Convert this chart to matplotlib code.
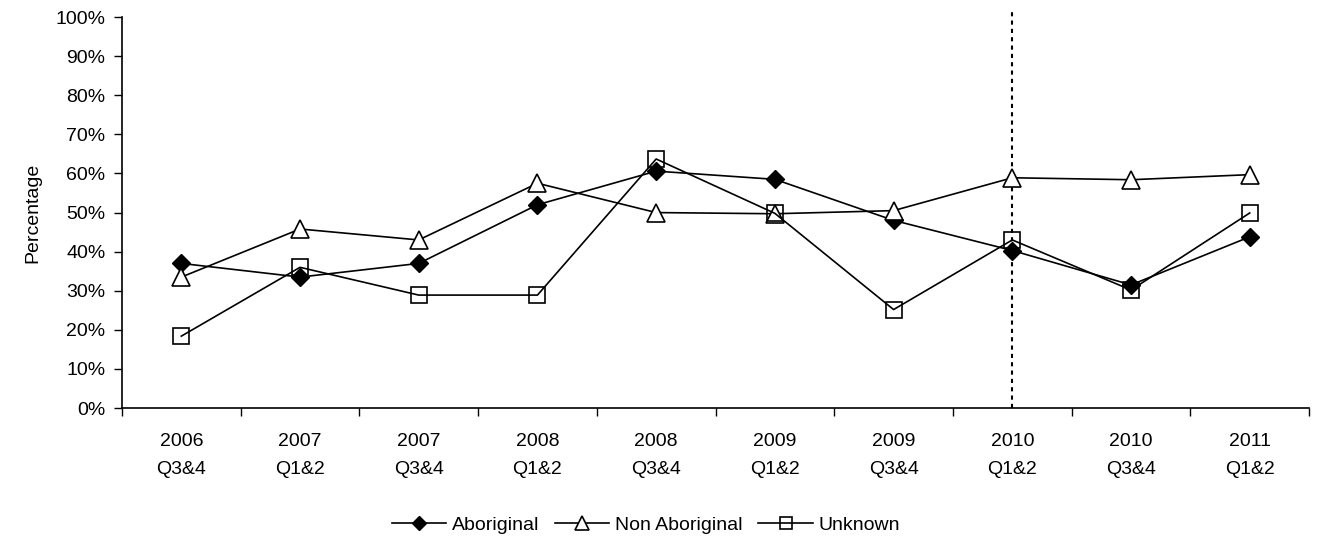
import numpy as np
import matplotlib
matplotlib.use('Agg')
import matplotlib.pyplot as plt

plt.rcParams['font.family'] = ['Liberation Sans', 'DejaVu Sans']

periods = ['2006\nQ3&4', '2007\nQ1&2', '2007\nQ3&4', '2008\nQ1&2', '2008\nQ3&4',
           '2009\nQ1&2', '2009\nQ3&4', '2010\nQ1&2', '2010\nQ3&4', '2011\nQ1&2']
aboriginal = [37.0, 33.5, 37.0, 52.0, 60.6, 58.5, 48.0, 40.3, 31.5, 43.8]
non_aboriginal = [33.5, 45.8, 43.0, 57.5, 50.0, 49.7, 50.5, 58.9, 58.4, 59.7]
unknown = [18.4, 36.0, 28.9, 28.9, 63.7, 49.8, 25.2, 43.0, 30.2, 49.9]
marker_period = 7  # dotted line at 2010 Q1&2

fig = plt.figure(figsize=(13.17, 5.5), dpi=100)
ax = fig.add_axes([0.0926, 0.258, 0.9014, 0.711])

x = np.arange(len(periods))
ax.plot(x, aboriginal, color='black', lw=1.2, marker='D', ms=9,
        mfc='black', mec='black', label='Aboriginal', zorder=3)
ax.plot(x, non_aboriginal, color='black', lw=1.2, marker='^', ms=13,
        mfc='white', mec='black', mew=1.2, label='Non Aboriginal', zorder=3)
ax.plot(x, unknown, color='black', lw=1.2, marker='s', ms=12,
        mfc='none', mec='black', mew=1.2, label='Unknown', zorder=3)

ax.axvline(marker_period, ymin=0, ymax=1.015, color='black', lw=1.5,
           linestyle=(0, (2, 2)), clip_on=False, zorder=2)

ax.set_xlim(-0.5, len(periods) - 0.5)
ax.set_ylim(0, 100)
ax.set_yticks(np.arange(0, 101, 10))
ax.set_yticklabels([f'{v}%' for v in range(0, 101, 10)], fontsize=14)
ax.set_xticks(x)
ax.set_xticklabels(periods, fontsize=14, linespacing=1.85)
ax.set_xticks(np.arange(-0.5, len(periods), 1), minor=True)
ax.tick_params(axis='x', which='major', length=0, pad=18)
ax.tick_params(axis='x', which='minor', length=6, width=1, direction='out')
ax.tick_params(axis='y', length=6, width=1, direction='out', pad=6)
ax.set_ylabel('Percentage', fontsize=14, labelpad=10)

for s in ['top', 'right']:
    ax.spines[s].set_visible(False)
for s in ['left', 'bottom']:
    ax.spines[s].set_linewidth(1.2)

handles, labels = ax.get_legend_handles_labels()
leg = fig.legend(handles, labels, loc='center', bbox_to_anchor=(646 / 1317, 1 - 525 / 550),
                 ncol=3, frameon=False, fontsize=14, handlelength=2.8,
                 handletextpad=0.3, columnspacing=0.8, markerscale=0.75)

fig.savefig('out.png', dpi=100)
